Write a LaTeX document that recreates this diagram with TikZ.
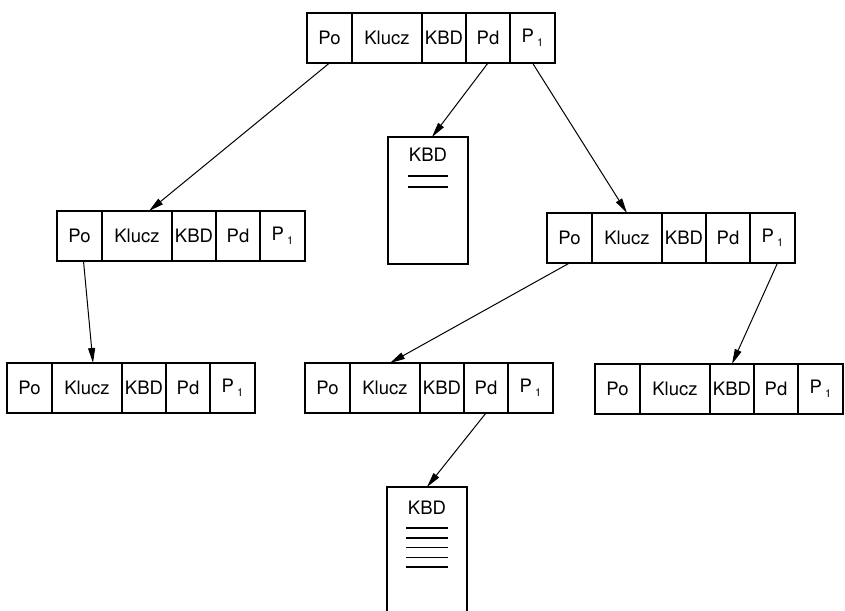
\documentclass[tikz,border=0pt]{standalone}
\usepackage{fontspec}
\setmainfont{TeX Gyre Heros}
\usepackage{tikz}
\usetikzlibrary{arrows.meta,positioning}

\tikzset{
  cell/.style={draw,line width=1.6pt,minimum height=50pt,inner sep=0pt,
    outer sep=0pt,font=\fontsize{18.5}{18.5}\selectfont},
  doc/.style={draw,line width=1.6pt,minimum width=80pt,inner sep=0pt,
    outer sep=0pt,anchor=north west},
  lab/.style={font=\fontsize{18.5}{18.5}\selectfont,inner sep=0pt},
  ptr/.style={-{Triangle[length=15pt,width=7pt]},line width=1pt},
}
\newcommand{\pone}{P\,\raisebox{-4pt}{\fontsize{11}{11}\selectfont 1}}

\begin{document}
\begin{tikzpicture}[x=1pt,y=-1pt]
\useasboundingbox (0,0) rectangle (845,610);
% records: name / left / top
\foreach \r/\x/\y in {r0/307/13, r1/57/211, r2/547/213,
  r3/7/363, r4/305/363, r5/595/364}{
  \node[cell,minimum width=45pt,anchor=north west] (\r-po) at (\x,\y) {Po};
  \node[cell,minimum width=70pt,right=0pt of \r-po] (\r-kl) {Klucz};
  \node[cell,minimum width=44pt,right=0pt of \r-kl] (\r-kbd) {KBD};
  \node[cell,minimum width=44pt,right=0pt of \r-kbd] (\r-pd) {Pd};
  \node[cell,minimum width=45pt,right=0pt of \r-pd] (\r-pj) {\pone};
}
% data blocks
\node[doc,minimum height=127pt] (d1) at (388,137) {};
\node[lab] (d1-kbd) at ([yshift=-18pt]d1.north) {KBD};
\foreach \i in {0,1}
  \draw[line width=1.6pt] ([xshift=-20pt,yshift={-39pt-11pt*\i}]d1.north) -- ++(40,0);
\node[doc,minimum height=140pt] (d2) at (387,487) {};
\node[lab] (d2-kbd) at ([yshift=-21pt]d2.north) {KBD};
\foreach \i in {0,...,4}
  \draw[line width=1.6pt] ([xshift=-21pt,yshift={-41pt-9.8pt*\i}]d2.north) -- ++(42,0);
% pointers
\draw[ptr] (r0-po.south) -- ([xshift=12pt]r1-kl.north);
\draw[ptr] (r0-pd.south) -- ([xshift=4pt]d1.north);
\draw[ptr] (r0-pj.south) -- (r2-kl.north);
\draw[ptr] ([xshift=4pt]r1-po.south) -- ([xshift=6pt]r3-kl.north);
\draw[ptr] (r2-po.south) -- ([xshift=5pt]r4-kl.north);
\draw[ptr] ([xshift=5pt]r2-pj.south) -- (r5-kbd.north);
\draw[ptr] (r4-pd.south) -- (d2.north);
\end{tikzpicture}
\end{document}
